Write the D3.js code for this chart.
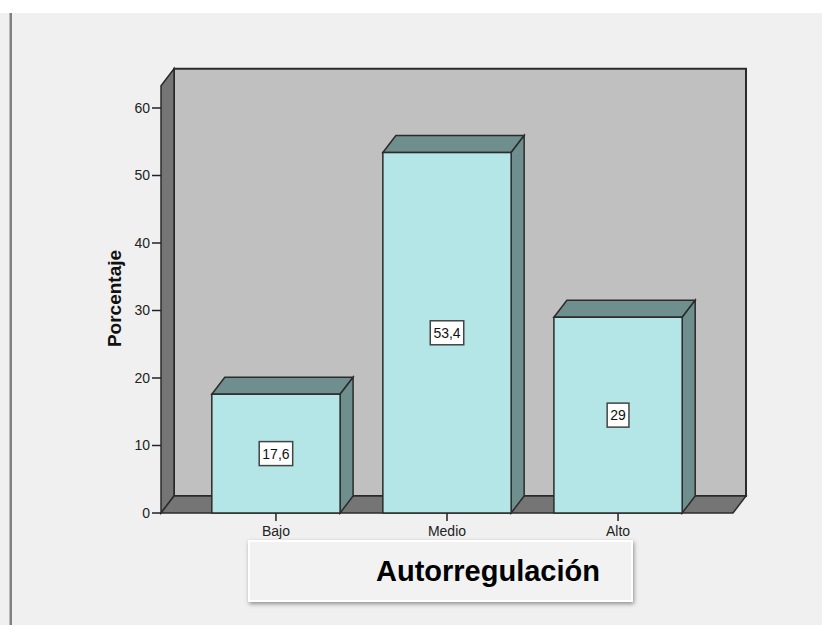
<!DOCTYPE html>
<html>
<head>
<meta charset="utf-8">
<script src="https://cdn.jsdelivr.net/npm/d3@7"></script>
<style>
  body { margin: 0; background: #fff; }
  svg { display: block; }
</style>
</head>
<body>
<div id="chart"></div>
<script>
const categories = ["Bajo", "Medio", "Alto"];
const values = [17.6, 53.4, 29];
const valueLabels = ["17,6", "53,4", "29"];
const yTicks = [0, 10, 20, 30, 40, 50, 60];

const width = 822;
const height = 625;
const plot = { left: 161, right: 733, bottom: 513, top60: 108 };
const depth = { dx: 13, dy: -17 };
const yWallMax = 63.3;

const svg = d3.select("#chart").append("svg")
  .attr("width", width)
  .attr("height", height);

const defs = svg.append("defs");
defs.append("filter")
  .attr("id", "shadow")
  .attr("x", "-10%").attr("y", "-20%")
  .attr("width", "120%").attr("height", "150%")
  .append("feDropShadow")
  .attr("dx", 1).attr("dy", 2)
  .attr("stdDeviation", 2)
  .attr("flood-color", "#777")
  .attr("flood-opacity", 0.8);

// page background
svg.append("rect").attr("width", width).attr("height", height).attr("fill", "#fff");
svg.append("rect").attr("y", 13).attr("width", width).attr("height", height - 13).attr("fill", "#f0f0f0");
svg.append("rect").attr("x", 9.5).attr("y", 13).attr("width", 2.5).attr("height", height - 13).attr("fill", "#808080");

const x = d3.scalePoint()
  .domain(categories)
  .range([plot.left, plot.right])
  .padding(0.672);

const y = d3.scaleLinear()
  .domain([0, 60])
  .range([plot.bottom, plot.top60]);

const step = x.step();
const barW = step * 0.75;
const line = d3.line();
const edge = "#2b2b2b";

// back wall
const y0 = y(0), yTop = y(yWallMax);
svg.append("path")
  .attr("d", line([
    [plot.left + depth.dx, yTop + depth.dy],
    [plot.right + depth.dx, yTop + depth.dy],
    [plot.right + depth.dx, y0 + depth.dy],
    [plot.left + depth.dx, y0 + depth.dy]
  ]) + "Z")
  .attr("fill", "#c0c0c0").attr("stroke", edge).attr("stroke-width", 2);

// left wall
svg.append("path")
  .attr("d", line([
    [plot.left, y0],
    [plot.left + depth.dx, y0 + depth.dy],
    [plot.left + depth.dx, yTop + depth.dy],
    [plot.left, yTop]
  ]) + "Z")
  .attr("fill", "#757575").attr("stroke", edge).attr("stroke-width", 1.5);

// floor
svg.append("path")
  .attr("d", line([
    [plot.left, y0],
    [plot.right, y0],
    [plot.right + depth.dx, y0 + depth.dy],
    [plot.left + depth.dx, y0 + depth.dy]
  ]) + "Z")
  .attr("fill", "#757575").attr("stroke", edge).attr("stroke-width", 1.5);

// y axis ticks
const yAxis = svg.append("g").attr("font-family", "Liberation Sans, Arial, sans-serif");
yAxis.selectAll("line")
  .data(yTicks)
  .join("line")
  .attr("x1", plot.left - 9).attr("x2", plot.left)
  .attr("y1", d => y(d)).attr("y2", d => y(d))
  .attr("stroke", "#222").attr("stroke-width", 1.5);
yAxis.selectAll("text")
  .data(yTicks)
  .join("text")
  .attr("x", plot.left - 11)
  .attr("y", d => y(d))
  .attr("dy", "0.35em")
  .attr("text-anchor", "end")
  .attr("font-size", 14)
  .attr("fill", "#222")
  .text(d => d);

svg.append("text")
  .attr("transform", `translate(121,${(y(0) + y(60)) / 2 - 12}) rotate(-90)`)
  .attr("text-anchor", "middle")
  .attr("font-family", "Liberation Sans, Arial, sans-serif")
  .attr("font-weight", "bold")
  .attr("font-size", 19)
  .attr("fill", "#111")
  .text("Porcentaje");

// bars
const data = categories.map((c, i) => ({ cat: c, value: values[i], label: valueLabels[i] }));
const bars = svg.append("g").selectAll("g")
  .data(data)
  .join("g");

bars.append("path")
  .attr("d", d => {
    const x0 = x(d.cat) - barW / 2, x1 = x(d.cat) + barW / 2, yv = y(d.value);
    return line([[x0, yv], [x0 + depth.dx, yv + depth.dy], [x1 + depth.dx, yv + depth.dy], [x1, yv]]) + "Z";
  })
  .attr("fill", "#6e8f8d").attr("stroke", edge).attr("stroke-width", 1.5);

bars.append("path")
  .attr("d", d => {
    const x1 = x(d.cat) + barW / 2, yv = y(d.value);
    return line([[x1, yv], [x1 + depth.dx, yv + depth.dy], [x1 + depth.dx, y0 + depth.dy], [x1, y0]]) + "Z";
  })
  .attr("fill", "#6e8f8d").attr("stroke", edge).attr("stroke-width", 1.5);

bars.append("rect")
  .attr("x", d => x(d.cat) - barW / 2)
  .attr("y", d => y(d.value))
  .attr("width", barW)
  .attr("height", d => y0 - y(d.value))
  .attr("fill", "#b4e6e8").attr("stroke", edge).attr("stroke-width", 1.5);

// value labels
const labels = bars.append("g")
  .attr("transform", d => `translate(${x(d.cat)},${y(d.value / 2)})`);
const labelBox = labels.append("rect");
const labelText = labels.append("text")
  .attr("text-anchor", "middle")
  .attr("dy", "0.36em")
  .attr("font-family", "Liberation Sans, Arial, sans-serif")
  .attr("font-size", 14)
  .attr("fill", "#111")
  .text(d => d.label);
labelText.each(function () {
  const b = this.getBBox();
  d3.select(this.parentNode).select("rect")
    .attr("x", -b.width / 2 - 3)
    .attr("y", -12)
    .attr("width", b.width + 6)
    .attr("height", 24)
    .attr("fill", "#fff")
    .attr("stroke", "#444")
    .attr("stroke-width", 1.5);
});

// x axis ticks
const xAxis = svg.append("g").attr("font-family", "Liberation Sans, Arial, sans-serif");
xAxis.selectAll("line")
  .data(categories)
  .join("line")
  .attr("x1", d => x(d)).attr("x2", d => x(d))
  .attr("y1", y0).attr("y2", y0 + 8)
  .attr("stroke", "#222").attr("stroke-width", 1.5);
xAxis.selectAll("text")
  .data(categories)
  .join("text")
  .attr("x", d => x(d))
  .attr("y", y0 + 23)
  .attr("text-anchor", "middle")
  .attr("font-size", 14)
  .attr("fill", "#222")
  .text(d => d);

// title box
svg.append("rect")
  .attr("x", 249).attr("y", 541)
  .attr("width", 383).attr("height", 60)
  .attr("fill", "#f2f2f2")
  .attr("stroke", "#fff").attr("stroke-width", 2)
  .attr("filter", "url(#shadow)");
svg.append("text")
  .attr("x", 376).attr("y", 581)
  .attr("font-family", "Liberation Sans, Arial, sans-serif")
  .attr("font-weight", "bold")
  .attr("font-size", 29)
  .attr("fill", "#000")
  .text("Autorregulación");
</script>
</body>
</html>
